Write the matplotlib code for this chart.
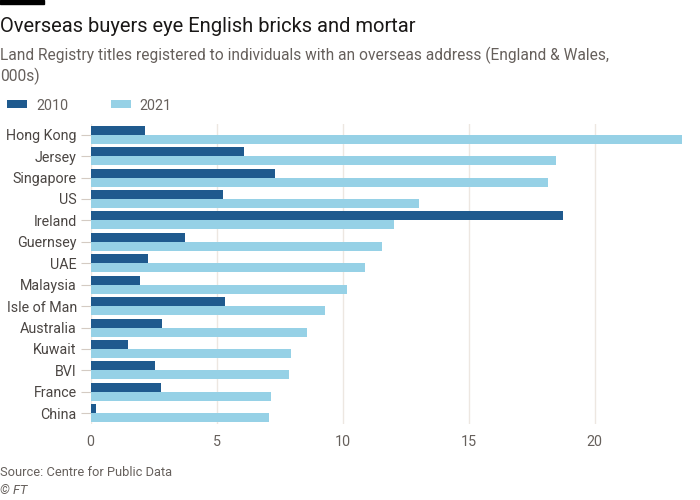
import matplotlib
matplotlib.use("Agg")
import matplotlib.pyplot as plt
import numpy as np

countries = ["Hong Kong", "Jersey", "Singapore", "US", "Ireland", "Guernsey", "UAE",
             "Malaysia", "Isle of Man", "Australia", "Kuwait", "BVI", "France", "China"]
v2010 = [2.14, 6.10, 7.30, 5.26, 18.73, 3.75, 2.27, 1.97, 5.32, 2.83, 1.47, 2.54, 2.80, 0.22]
v2021 = [23.48, 18.45, 18.13, 13.04, 12.02, 11.56, 10.88, 10.16, 9.31, 8.60, 7.94, 7.87, 7.15, 7.06]
xticks = [0, 5, 10, 15, 20]

plt.rcParams['font.family'] = ['Roboto', 'DejaVu Sans']

c10 = "#1f5a8e"
c21 = "#96d1e6"
txt = "#4a4542"
sub = "#66605c"

fig = plt.figure(figsize=(7, 5), dpi=100)
fig.patch.set_facecolor("white")
ax = fig.add_axes([0.1296, 0.152, 0.846, 0.6])

y = np.arange(len(countries))
h = 0.42
b1 = ax.barh(y - h / 2, v2010, height=h, color=c10, label="2010", zorder=3)
b2 = ax.barh(y + h / 2, v2021, height=h, color=c21, label="2021", zorder=3)

ax.set_ylim(len(countries) - 0.5, -0.5)
ax.set_xlim(0, 23.5)
ax.set_yticks(y)
ax.set_yticklabels(countries, fontsize=10.3, color=txt)
ax.set_xticks(xticks)
ax.set_xticklabels([str(t) for t in xticks], fontsize=10.3, color="#66605c")
ax.tick_params(axis="y", length=7, color="#d4cbc3", width=0.8, pad=3)
ax.tick_params(axis="x", length=0, pad=8)
ax.grid(axis="x", color="#ede7e1", linewidth=1, zorder=0)
for s in ax.spines.values():
    s.set_visible(False)

fig.patches.append(matplotlib.patches.Rectangle((0, 0.992), 0.063, 0.008, transform=fig.transFigure,
                                                color="black"))
fig.text(0.0, 0.948, "Overseas buyers eye English bricks and mortar", fontsize=14.5, color="#1a1817",
         ha="left", va="center")
fig.text(0.0, 0.868, "Land Registry titles registered to individuals with an overseas address (England & Wales,\n000s)",
         fontsize=11.2, color=sub, ha="left", va="center", linespacing=1.25)
fig.legend(handles=[b1, b2], loc="center left", bbox_to_anchor=(-0.008, 0.789), ncol=2, frameon=False,
           fontsize=10.3, labelcolor=sub, handlelength=1.4, handleheight=0.5, columnspacing=3.0,
           handletextpad=0.6)
fig.text(0.0, 0.055, "Source: Centre for Public Data", fontsize=9.3, color=sub, ha="left", va="center")
fig.text(0.0, 0.018, "© FT", fontsize=9.3, color=sub, ha="left", va="center", style="italic")

fig.savefig("out.png", dpi=100)
